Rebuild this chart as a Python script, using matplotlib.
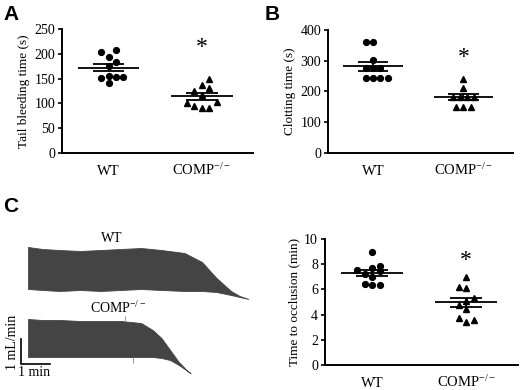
import numpy as np
import matplotlib
matplotlib.use('Agg')
import matplotlib.pyplot as plt
from matplotlib.transforms import offset_copy

# ---------------------------------------------------------------
# DATA
# ---------------------------------------------------------------
groups = ['WT', 'COMP$^{-/-}$']

# A: tail bleeding time (s)
bleed_wt = [207.7, 203, 194, 184, 176, 156, 152, 152.6, 154, 140.5]
bleed_ko = [150, 137, 132, 125, 117, 101.5, 102, 95.5, 90, 90]

# B: clotting time (s)
clot_wt = [362, 362, 302, 275, 275, 275, 243, 243, 243, 243]
clot_ko = [240, 210, 182, 182, 182, 182, 150, 150, 150]

# C: time to occlusion (min)
occl_wt = [9.0, 7.88, 7.67, 7.54, 7.48, 7.2, 7.0, 6.4, 6.35, 6.35]
occl_ko = [7.0, 6.2, 6.15, 5.3, 5.1, 4.75, 4.42, 3.72, 3.4, 3.57]

# C: flow traces, envelope of the pulsatile signal (mL/min vs min)
wt_t     = [0, 0.5, 1.1, 1.8, 2.5, 3.2, 3.9, 4.6, 5.4, 6.0, 6.5, 7.0, 7.3, 7.6]
wt_upper = [2.12, 2.04, 2.0, 1.96, 2.0, 2.04, 2.08, 2.0, 1.88, 1.52, 0.88, 0.36, 0.16, 0.04]
wt_lower = [0.44, 0.4, 0.36, 0.4, 0.36, 0.4, 0.44, 0.4, 0.36, 0.36, 0.32, 0.2, 0.12, 0.04]

ko_t     = [0, 0.5, 1.1, 1.8, 2.5, 3.2, 3.9, 4.3, 4.6, 4.9, 5.2, 5.5, 5.6]
ko_upper = [2.16, 2.12, 2.12, 2.08, 2.08, 2.08, 2.0, 1.72, 1.4, 0.92, 0.44, 0.08, 0.0]
ko_lower = [0.64, 0.64, 0.64, 0.64, 0.64, 0.64, 0.64, 0.64, 0.6, 0.52, 0.32, 0.08, 0.0]

# scale bar
bar_time = 1.0   # min
bar_flow = 1.0   # mL/min

# ---------------------------------------------------------------
# LAYOUT (horizontal jitter of the points, in steps)
# ---------------------------------------------------------------
bleed_wt_dx = [1, -1, 0, 1, 0, 0, -1, 1, 2, 0]
bleed_ko_dx = [1, 0, 1, -1, 0, -2, 2, -1, 0, 1]
clot_wt_dx = [-1, 0, 0, -1, 0, 1, -1, 0, 1, 2]
clot_ko_dx = [0, 0, -1.5, -0.5, 0.5, 1.5, -1, 0, 1]
occl_wt_dx = [0, 1, 0, -2, 1, -1, 0, -1, 0, 1]
occl_ko_dx = [0, -1, 0, 1, 0, -1, 0, -1, 0, 1]

plt.rcParams['font.family'] = ['Liberation Serif', 'DejaVu Serif']
plt.rcParams['mathtext.fontset'] = 'custom'
plt.rcParams['mathtext.rm'] = 'Liberation Serif'
plt.rcParams['mathtext.it'] = 'Liberation Serif'

W, H = 520, 390
fig = plt.figure(figsize=(5.2, 3.9), dpi=100)


def px_box(x0, y0, x1, y1):
    # pixel box (top-left origin) -> figure fraction rect
    return [x0 / W, 1 - y1 / H, (x1 - x0) / W, (y1 - y0) / H]


def dot_panel(ax, wt, ko, wt_dx, ko_dx, ymax, ystep, ylabel, star_y, lab_drop=16):
    step = 0.08
    ax.plot(1 + step * np.array(wt_dx), wt, 'o', color='black', ms=4.2, clip_on=False)
    ax.plot(2 + step * np.array(ko_dx), ko, '^', color='black', ms=4.2, clip_on=False)
    for x, vals in [(1, wt), (2, ko)]:
        vals = np.asarray(vals)
        m = vals.mean()
        sem = vals.std(ddof=1) / np.sqrt(len(vals))
        ax.hlines(m, x - 0.33, x + 0.33, color='black', lw=1.3)
        ax.hlines([m - sem, m + sem], x - 0.17, x + 0.17, color='black', lw=1.3)
        ax.vlines(x, m - sem, m + sem, color='black', lw=1.3)
    ax.text(2, star_y, '*', ha='center', va='center', fontsize=17)
    ax.set_xlim(0.5, 2.55)
    ax.set_ylim(0, ymax)
    ax.set_yticks(np.arange(0, ymax + 1e-9, ystep))
    ax.set_xticks([])
    # group labels on a common baseline below the axis
    tr = offset_copy(ax.get_xaxis_transform(), fig=fig, y=-lab_drop, units='points')
    for x, g in zip([1, 2], groups):
        ax.text(x, 0, g, transform=tr, ha='center', va='baseline', fontsize=10.5)
    ax.tick_params(axis='y', length=3, width=1.2, labelsize=10, pad=2)
    for s in ['top', 'right']:
        ax.spines[s].set_visible(False)
    for s in ['left', 'bottom']:
        ax.spines[s].set_linewidth(1.4)
    ax.set_ylabel(ylabel, fontsize=9.5, labelpad=3)


# panel A
axA = fig.add_axes(px_box(62, 29, 253, 153))
dot_panel(axA, bleed_wt, bleed_ko, bleed_wt_dx, bleed_ko_dx, 250, 50,
          'Tail bleeding time (s)', 213)

# panel B
axB = fig.add_axes(px_box(328, 30, 513, 153))
dot_panel(axB, clot_wt, clot_ko, clot_wt_dx, clot_ko_dx, 400, 100,
          'Clotting time (s)', 312)

# panel C right
axC = fig.add_axes(px_box(325, 239, 518, 365))
dot_panel(axC, occl_wt, occl_ko, occl_wt_dx, occl_ko_dx, 10, 2,
          'Time to occlusion (min)', 8.33, lab_drop=15.5)

# panel C left: flow traces
axT = fig.add_axes(px_box(0, 235, 260, 380))
axT.set_xlim(-28 / 29, 232 / 29)
axT.set_ylim(0, 5.8)
axT.axis('off')
trace_col = '#444444'
wt_off, ko_off = 3.2, 0.28
axT.fill_between(wt_t, np.array(wt_lower) + wt_off, np.array(wt_upper) + wt_off,
                 color=trace_col, lw=0.6, edgecolor=trace_col)
axT.fill_between(ko_t, np.array(ko_lower) + ko_off, np.array(ko_upper) + ko_off,
                 color=trace_col, lw=0.6, edgecolor=trace_col)
# small artefact spikes on the COMP trace
axT.vlines(3.34, ko_off + 2.08, ko_off + 2.28, color='#8a8a8a', lw=0.6)
axT.vlines(3.62, ko_off + 0.40, ko_off + 0.64, color='#8a8a8a', lw=0.6)

# scale bar
sx, sy = -0.241, 0.64
axT.plot([sx, sx, sx + bar_time], [sy + bar_flow, sy, sy], color='black', lw=1.2,
         solid_joinstyle='miter')

fig.text(12.5 / W, 1 - 342 / H, '1 mL/min', rotation=90, ha='center', va='center',
         fontsize=10)
fig.text(34 / W, 1 - 373 / H, '1 min', ha='center', va='center', fontsize=10)
fig.text(112 / W, 1 - 238 / H, 'WT', ha='center', va='center', fontsize=10)
fig.text(118 / W, 1 - 308 / H, 'COMP$^{-/-}$', ha='center', va='center', fontsize=10)

# panel letters
for lab, x, y in [('A', 3, 15), ('B', 265, 15), ('C', 3, 206)]:
    fig.text(x / W, 1 - y / H, lab, ha='left', va='center', fontsize=15,
             fontweight='bold', family='Liberation Sans')

fig.savefig('out.png', dpi=100)
